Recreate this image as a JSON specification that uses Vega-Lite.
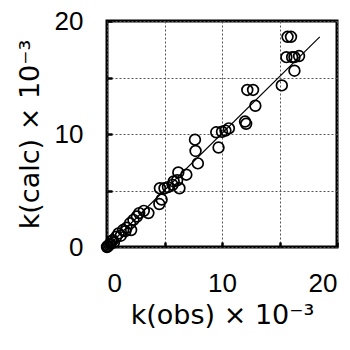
{
  "$schema": "https://vega.github.io/schema/vega-lite/v6.json",
  "autosize": "none",
  "width": 230,
  "height": 226,
  "padding": {"left": 107, "top": 21, "right": 13, "bottom": 103},
  "background": "white",
  "config": {
    "view": {"stroke": "black", "strokeWidth": 3},
    "font": "Liberation Sans"
  },
  "datasets": {
    "pts": [
      {"obs": 15.7, "calc": 18.6}, {"obs": 16.0, "calc": 18.6},
      {"obs": 15.6, "calc": 16.8}, {"obs": 16.1, "calc": 16.8}, {"obs": 16.3, "calc": 16.8}, {"obs": 16.7, "calc": 16.9},
      {"obs": 16.3, "calc": 15.6}, {"obs": 15.2, "calc": 14.3},
      {"obs": 12.2, "calc": 13.9}, {"obs": 12.7, "calc": 13.9},
      {"obs": 12.9, "calc": 12.5},
      {"obs": 12.0, "calc": 11.1}, {"obs": 12.1, "calc": 10.9},
      {"obs": 9.5, "calc": 10.15}, {"obs": 10.0, "calc": 10.2}, {"obs": 10.3, "calc": 10.3}, {"obs": 10.6, "calc": 10.5},
      {"obs": 9.7, "calc": 8.8},
      {"obs": 7.65, "calc": 9.5}, {"obs": 7.7, "calc": 8.5},
      {"obs": 7.9, "calc": 7.4},
      {"obs": 6.2, "calc": 6.6}, {"obs": 6.9, "calc": 6.4},
      {"obs": 5.8, "calc": 5.8}, {"obs": 6.1, "calc": 5.9}, {"obs": 5.7, "calc": 5.5}, {"obs": 6.3, "calc": 5.2},
      {"obs": 4.6, "calc": 5.2}, {"obs": 5.0, "calc": 5.2}, {"obs": 5.3, "calc": 5.3},
      {"obs": 4.75, "calc": 4.2}, {"obs": 4.55, "calc": 3.8},
      {"obs": 3.6, "calc": 3.0}, {"obs": 3.2, "calc": 3.2}, {"obs": 2.8, "calc": 3.0}, {"obs": 2.6, "calc": 2.7},
      {"obs": 2.3, "calc": 2.4}, {"obs": 2.0, "calc": 2.1}, {"obs": 1.7, "calc": 1.7}, {"obs": 1.4, "calc": 1.5}, {"obs": 2.1, "calc": 1.5},
      {"obs": 1.0, "calc": 1.2}, {"obs": 0.8, "calc": 0.9}, {"obs": 0.5, "calc": 0.6}, {"obs": 0.3, "calc": 0.3},
      {"obs": 0.05, "calc": 0.05}, {"obs": 0.0, "calc": 0.0}, {"obs": 0.2, "calc": 0.2}, {"obs": 0.4, "calc": 0.5},
      {"obs": 0.6, "calc": 0.4}, {"obs": 0.1, "calc": 0.1}, {"obs": 1.2, "calc": 1.0}, {"obs": 1.6, "calc": 1.4}
    ],
    "fit": [
      {"obs": 0, "calc": 0},
      {"obs": 18.5, "calc": 18.6}
    ]
  },
  "layer": [
    {
      "data": {"name": "fit"},
      "mark": {"type": "line", "color": "black", "strokeWidth": 1.2},
      "encoding": {
        "x": {"field": "obs", "type": "quantitative"},
        "y": {"field": "calc", "type": "quantitative"}
      }
    },
    {
      "data": {"name": "pts"},
      "mark": {"type": "point", "shape": "circle", "filled": false, "color": "black", "size": 115, "strokeWidth": 1.7, "opacity": 1},
      "encoding": {
        "x": {
          "field": "obs", "type": "quantitative",
          "scale": {"domain": [0, 20], "nice": false, "zero": false},
          "axis": {
            "values": [0, 5, 10, 15, 20],
            "labelExpr": "datum.value % 10 == 0 ? datum.label : ''",
            "domain": false,
            "grid": true, "gridDash": [2, 2], "gridColor": "#555", "gridWidth": 1,
            "tickSize": -5, "tickWidth": 2.5, "tickColor": "black",
            "labelPadding": 28, "labelFontSize": 26, "labelColor": "black", "labelFont": "Liberation Sans",
            "title": "k(obs) × 10⁻³", "titleFontSize": 27, "titleFontWeight": "normal", "titleColor": "black", "titleFont": "DejaVu Sans",
            "titlePadding": 6
          }
        },
        "y": {
          "field": "calc", "type": "quantitative",
          "scale": {"domain": [0, 20], "nice": false, "zero": false},
          "axis": {
            "values": [0, 5, 10, 15, 20],
            "labelExpr": "datum.value % 10 == 0 ? datum.label : ''",
            "domain": false,
            "grid": true, "gridDash": [2, 2], "gridColor": "#555", "gridWidth": 1,
            "tickSize": -5, "tickWidth": 2.5, "tickColor": "black",
            "labelPadding": 29, "labelFontSize": 26, "labelColor": "black", "labelFont": "Liberation Sans",
            "title": "k(calc) × 10⁻³", "titleFontSize": 27, "titleFontWeight": "normal", "titleColor": "black", "titleFont": "DejaVu Sans",
            "titlePadding": 10
          }
        }
      }
    }
  ]
}
